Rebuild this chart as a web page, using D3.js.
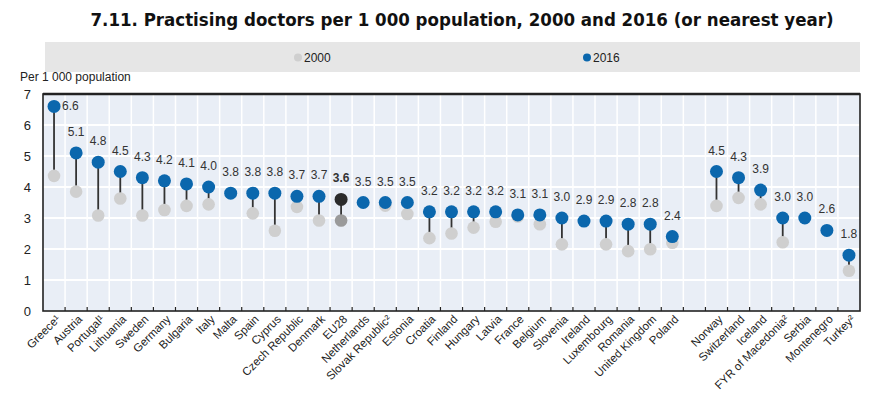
<!DOCTYPE html>
<html><head><meta charset="utf-8">
<script src="https://cdn.jsdelivr.net/npm/d3@7"></script>
<style>
body{margin:0;background:#fff;}
text{font-family:"Liberation Sans Narrow","Arial Narrow","Liberation Sans",sans-serif;}
</style></head>
<body><svg id="c" width="877" height="401"></svg>
<script>
const categories = ["Greece¹","Austria","Portugal¹","Lithuania","Sweden","Germany","Bulgaria","Italy","Malta","Spain","Cyprus","Czech Republic","Denmark","EU28","Netherlands","Slovak Republic²","Estonia","Croatia","Finland","Hungary","Latvia","France","Belgium","Slovenia","Ireland","Luxembourg","Romania","United Kingdom","Poland","","Norway","Switzerland","Iceland","FYR of Macedonia²","Serbia","Montenegro","Turkey²"];
const values2016 = [6.6,5.1,4.8,4.5,4.3,4.2,4.1,4.0,3.8,3.8,3.8,3.7,3.7,3.6,3.5,3.5,3.5,3.2,3.2,3.2,3.2,3.1,3.1,3.0,2.9,2.9,2.8,2.8,2.4,null,4.5,4.3,3.9,3.0,3.0,2.6,1.8];
const values2000 = [4.36,3.85,3.08,3.63,3.08,3.26,3.39,3.44,null,3.15,2.59,3.36,2.92,2.92,null,3.4,3.13,2.35,2.5,2.69,2.88,3.05,2.8,2.15,null,2.15,1.93,1.99,2.2,null,3.39,3.65,3.44,2.22,null,null,1.3];
const labels2016 = ["6.6","5.1","4.8","4.5","4.3","4.2","4.1","4.0","3.8","3.8","3.8","3.7","3.7","3.6","3.5","3.5","3.5","3.2","3.2","3.2","3.2","3.1","3.1","3.0","2.9","2.9","2.8","2.8","2.4","","4.5","4.3","3.9","3.0","3.0","2.6","1.8"];
const yTicks = [0,1,2,3,4,5,6,7];
const seriesNames = ["2000","2016"];

const svg = d3.select("#c");
const L=43, R=860, T=94, B=311;
const keys = categories.map((c,i)=>i);
const x = d3.scaleBand().domain(keys).range([L,R]).padding(0);
const y = d3.scaleLinear().domain([0,7]).range([B,T]);

const blue="#0b67ad", gray="#cfcfcf";

// title
svg.append("text").attr("x",462).attr("y",26).attr("text-anchor","middle")
  .style("font-family","'DejaVu Sans Condensed','Liberation Sans Narrow',sans-serif")
  .style("font-weight","bold").style("font-size","18.5px").attr("fill","#111")
  .text("7.11.  Practising doctors per 1 000 population, 2000 and 2016 (or nearest year)");

// legend band
svg.append("rect").attr("x",45).attr("y",42).attr("width",815).attr("height",30).attr("fill","#e6e6e6");
const legPos=[298,587], legCol=[gray,blue];
seriesNames.forEach((s,i)=>{
  svg.append("circle").attr("cx",legPos[i]).attr("cy",57.5).attr("r",4).attr("fill",legCol[i]);
  svg.append("text").attr("x",legPos[i]+6).attr("y",61.5).style("font-size","12px").attr("fill","#222").text(s);
});

svg.append("text").attr("x",20).attr("y",81).style("font-size","12px").attr("fill","#222").text("Per 1 000 population");

// plot bg
svg.append("rect").attr("x",L).attr("y",T).attr("width",R-L).attr("height",B-T).attr("fill","#e9eef6");
// grid
svg.append("g").selectAll("line").data(yTicks.slice(1,-1)).join("line")
  .attr("x1",L).attr("x2",R).attr("y1",d=>y(d)).attr("y2",d=>y(d)).attr("stroke","#fff").attr("stroke-width",2);
svg.append("g").selectAll("line").data(keys.slice(1)).join("line")
  .attr("x1",d=>x(d)).attr("x2",d=>x(d)).attr("y1",T).attr("y2",B).attr("stroke","#fff").attr("stroke-width",1.5);

// axes
const yAxis = d3.axisLeft(y).tickValues(yTicks).tickFormat(d3.format("d")).tickSize(0).tickPadding(12);
const gy = svg.append("g").attr("transform",`translate(${L},0)`).call(yAxis);
gy.select(".domain").remove();
gy.selectAll("text").style("font-size","13px").attr("fill","#222").style("font-family","'Liberation Sans Narrow',sans-serif");

const xAxis = d3.axisBottom(x).tickValues(keys).tickFormat(i=>categories[i]).tickSize(0);
const gx = svg.append("g").attr("transform",`translate(0,${B})`).call(xAxis);
gx.select(".domain").remove();
gx.selectAll("text").attr("text-anchor","end").attr("transform","translate(4,6) rotate(-45)")
  .attr("dy","0.35em").attr("dx","0").attr("y",0)
  .style("font-size","11.5px").attr("fill","#222");
// tick marks between slots (inside)
svg.append("g").selectAll("line").data(keys.slice(1)).join("line")
  .attr("x1",d=>x(d)).attr("x2",d=>x(d)).attr("y1",B-4).attr("y2",B).attr("stroke","#222").attr("stroke-width",1.2);

// frame
svg.append("rect").attr("x",L).attr("y",T).attr("width",R-L).attr("height",B-T).attr("fill","none").attr("stroke","#222").attr("stroke-width",1.6);
svg.append("line").attr("x1",L).attr("x2",R).attr("y1",T).attr("y2",T).attr("stroke","#222").attr("stroke-width",2.5);

const cx = i=>x(i)+x.bandwidth()/2;
const data = keys.filter(i=>values2016[i]!==null);
const isEU = i=>categories[i]==="EU28";

// stems
svg.append("g").selectAll("line").data(data.filter(i=>values2000[i]!==null)).join("line")
  .attr("x1",cx).attr("x2",cx).attr("y1",i=>y(values2000[i])).attr("y2",i=>y(values2016[i]))
  .attr("stroke","#333").attr("stroke-width",1.8);
// 2000
svg.append("g").selectAll("circle").data(data.filter(i=>values2000[i]!==null)).join("circle")
  .attr("cx",cx).attr("cy",i=>y(values2000[i])).attr("r",6.3)
  .attr("fill",i=>isEU(i)?"#9a9a9a":gray);
// 2016
svg.append("g").selectAll("circle").data(data).join("circle")
  .attr("cx",cx).attr("cy",i=>y(values2016[i])).attr("r",6.5)
  .attr("fill",i=>isEU(i)?"#2b2b2b":blue);
// labels
svg.append("g").selectAll("text").data(data).join("text")
  .attr("x",i=>i===0?cx(i)+8:cx(i)).attr("y",i=>i===0?y(values2016[i])+4:y(values2016[i])-17)
  .attr("text-anchor",i=>i===0?"start":"middle")
  .style("font-size","12px").style("font-weight",i=>isEU(i)?"bold":"normal").attr("fill","#333")
  .text(i=>labels2016[i]);
</script></body></html>
